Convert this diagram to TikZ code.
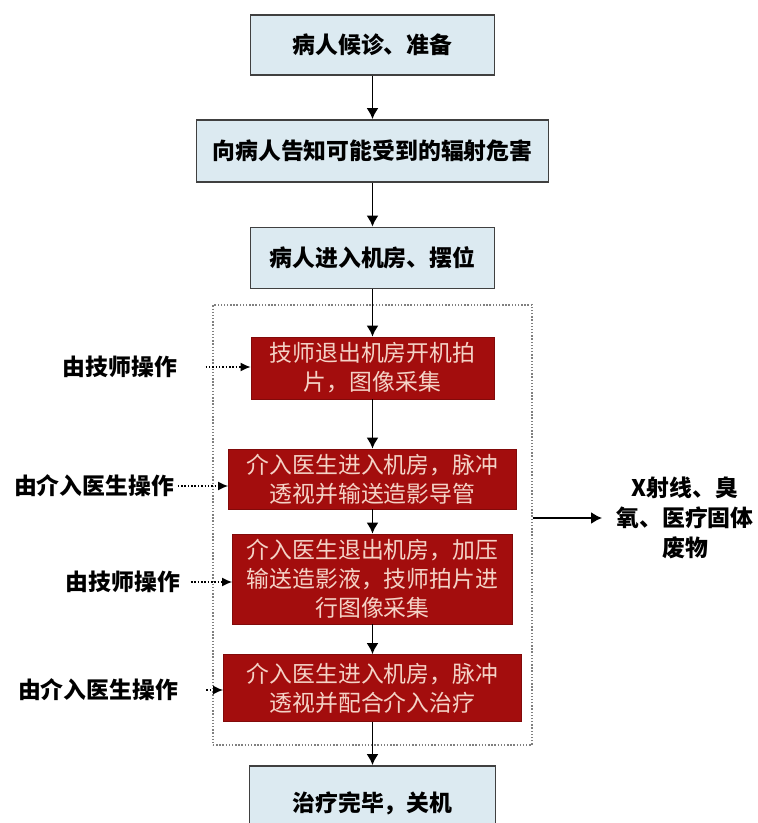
\documentclass[tikz,border=0pt]{standalone}
\usepackage{fontspec}
\newfontfamily\cjk{Noto Sans CJK SC}
\usetikzlibrary{positioning,arrows.meta}
\definecolor{paleblue}{HTML}{DCEAF1}
\definecolor{wine}{HTML}{A30D0D}
\definecolor{blush}{HTML}{F4D2C6}
\newcommand{\pxu}{0.02cm}
\tikzstyle{stage} = [rectangle, draw=black!75, line width=1pt, fill=paleblue, font=\cjk\bfseries\fontsize{13}{16.5}\selectfont, text centered]
\tikzstyle{action} = [rectangle, draw=wine!80!black, fill=wine, text=blush, font=\cjk\fontsize{13}{16.5}\selectfont, align=center, inner sep=0pt]
\tikzstyle{who} = [font=\cjk\bfseries\fontsize{13}{16.5}\selectfont, inner sep=2pt]
\tikzstyle{flow} = [line width=1.1pt,-{Latex[length=2.2mm,width=2.4mm]}]
\tikzstyle{hint} = [densely dotted,line width=0.9pt,-{Latex[length=2mm,width=1.8mm]}]

\begin{document}
\begin{tikzpicture}[x=\pxu,y=-\pxu]
		\useasboundingbox (0,0) rectangle (758,823);
		% main stages
		\node[stage, minimum width=244*\pxu, minimum height=60*\pxu] (wait) at (372.5,45) {病人候诊、准备};
		\node[stage, minimum width=352*\pxu, minimum height=62*\pxu] (inform) at (372.5,151) {向病人告知可能受到的辐射危害};
		\node[stage, minimum width=244*\pxu, minimum height=61*\pxu] (enter) at (372.5,258) {病人进入机房、摆位};
		\node[draw=gray, densely dotted, line width=0.8pt, minimum width=319*\pxu, minimum height=440*\pxu] (zone) at (372.5,525) {};
		\node[action, minimum width=243*\pxu, minimum height=62*\pxu] (shoot) at (372.5,368) {技师退出机房开机拍\\片，图像采集};
		\node[action, minimum width=288*\pxu, minimum height=60*\pxu] (pulse) at (372.5,479) {介入医生进入机房，脉冲\\透视并输送造影导管};
		\node[action, minimum width=280*\pxu, minimum height=90*\pxu] (inject) at (372.5,579) {介入医生退出机房，加压\\输送造影液，技师拍片进\\行图像采集};
		\node[action, minimum width=298*\pxu, minimum height=67*\pxu] (assist) at (372.5,688) {介入医生进入机房，脉冲\\透视并配合介入治疗};
		\node[stage, minimum width=246*\pxu, minimum height=74*\pxu] (finish) at (372.5,803) {治疗完毕，关机};
		\draw[flow] (wait) -- (inform);
		\draw[flow] (inform) -- (enter);
		\draw[flow] (enter) -- (shoot);
		\draw[flow] (shoot) -- (pulse);
		\draw[flow] (pulse) -- (inject);
		\draw[flow] (inject) -- (assist);
		\draw[flow] (assist) -- (finish);
		% who operates
		\node[who] (tech1) at (120,367) {由技师操作};
		\node[who] (doc1) at (94,486) {由介入医生操作};
		\node[who] (tech2) at (123,582) {由技师操作};
		\node[who] (doc2) at (98,690) {由介入医生操作};
		\draw[hint,shorten <=14pt] (tech1.east) -- (tech1.east -| shoot.west);
		\draw[hint] (doc1.east) -- (doc1.east -| pulse.west);
		\draw[hint,shorten <=4pt] (tech2.east) -- (tech2.east -| inject.west);
		\draw[hint,shorten <=14pt] (doc2.east) -- (doc2.east -| assist.west);
		% output
		\node[who, font=\cjk\bfseries\fontsize{13}{17}\selectfont, align=center, inner sep=8pt] (waste) at (685,518) {X射线、臭\\氧、医疗固体\\废物};
		\draw[flow] (zone.east |- waste) -- (waste.west);

		\end{tikzpicture}
\end{document}
